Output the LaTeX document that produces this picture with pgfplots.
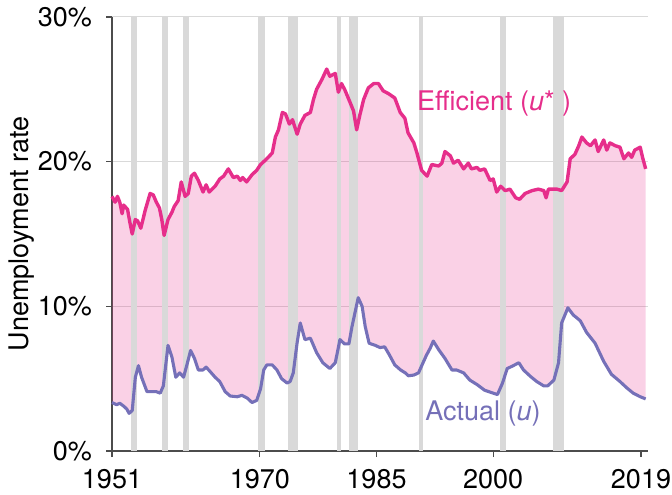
\documentclass[border=0pt]{standalone}
\usepackage{pgfplots}
\pgfplotsset{compat=1.18}
\usepackage{pgfplotstable}
\usepgfplotslibrary{fillbetween}
\usetikzlibrary{calc}
\usepackage{fontspec}
\setmainfont{TeX Gyre Heros}
\definecolor{effc}{HTML}{E62E8B}
\definecolor{actc}{HTML}{7570B8}
\definecolor{recc}{HTML}{D9D9D9}
\pgfplotstableread{
x y
1951.0 17.6
1951.4 17.2
1951.7 17.6
1952.0 17.2
1952.3 16.4
1952.5 17.0
1953.0 16.7
1953.3 15.8
1953.6 15.0
1954.0 16.0
1954.3 15.9
1954.7 15.4
1955.3 16.7
1955.9 17.8
1956.3 17.7
1956.7 17.2
1957.1 16.8
1957.4 16.0
1957.7 14.9
1958.2 16.0
1958.7 16.5
1959.0 16.9
1959.5 17.3
1959.9 18.6
1960.4 17.6
1960.8 17.8
1961.2 19.0
1961.6 19.2
1962.1 18.7
1962.7 17.9
1963.1 18.4
1963.5 17.9
1964.25 18.3
1964.85 18.8
1965.35 19.0
1965.95 19.5
1966.6 18.9
1967.1 19.0
1967.5 18.7
1967.8 18.9
1968.3 18.6
1969.0 19.1
1969.6 19.4
1970.1 19.8
1970.9 20.2
1971.6 20.6
1972.0 21.7
1972.4 22.2
1972.9 23.4
1973.3 23.3
1973.8 22.6
1974.2 22.9
1974.8 21.9
1975.2 22.6
1975.8 23.2
1976.5 23.4
1976.9 24.3
1977.3 25.0
1978.0 25.7
1978.6 26.4
1979.0 25.9
1979.7 26.1
1980.1 24.8
1980.5 25.4
1980.9 25.0
1981.6 24.1
1982.05 23.5
1982.45 22.2
1982.85 23.2
1983.35 24.3
1983.95 25.1
1984.65 25.4
1985.25 25.4
1985.85 24.9
1986.55 24.7
1987.35 24.4
1988.05 23.4
1988.65 23.0
1989.05 22.0
1989.8 21.3
1990.2 20.6
1990.8 19.4
1991.5 19.0
1992.1 19.8
1993.0 19.7
1993.4 19.9
1993.8 20.7
1994.5 20.4
1994.9 19.9
1995.5 20.1
1996.2 19.5
1996.8 19.9
1997.2 19.5
1997.9 19.6
1998.3 19.4
1998.9 19.5
1999.6 18.7
2000.0 18.8
2000.45 17.9
2000.95 18.3
2001.55 18.0
2002.15 18.1
2002.9 17.5
2003.4 17.4
2004.1 17.8
2005.0 18.0
2005.8 18.1
2006.5 18.0
2006.8 17.5
2007.1 18.1
2008.2 18.1
2008.8 18.0
2009.5 18.6
2009.9 20.2
2010.5 20.5
2011.0 21.1
2011.4 21.7
2012.0 21.3
2012.5 21.1
2013.1 21.5
2013.5 20.7
2014.2 21.5
2014.6 20.8
2015.0 21.3
2015.7 21.1
2016.3 21.0
2016.8 20.2
2017.4 20.6
2017.8 20.3
2018.2 20.8
2018.9 21.0
2019.2 20.3
2019.6 19.5
}\effdata
\pgfplotstableread{
x y
1951.0 3.35
1951.6 3.2
1952.0 3.3
1952.5 3.1
1952.9 2.9
1953.2 2.6
1953.6 2.8
1954.0 5.1
1954.4 5.9
1954.8 5.1
1955.5 4.1
1956.1 4.1
1956.7 4.1
1957.2 4.0
1957.6 4.5
1958.2 7.3
1958.7 6.5
1959.2 5.1
1959.7 5.4
1960.2 5.1
1960.7 6.1
1961.1 6.95
1961.6 6.4
1962.1 5.6
1962.7 5.6
1963.1 5.8
1963.6 5.5
1964.25 5.1
1964.85 4.8
1965.55 4.1
1966.2 3.8
1967.1 3.75
1967.7 3.85
1968.4 3.65
1969.0 3.35
1969.6 3.5
1970.1 4.3
1970.5 5.6
1970.9 5.95
1971.6 5.95
1972.2 5.6
1972.8 5.0
1973.5 4.7
1973.9 4.8
1974.3 5.4
1974.8 7.5
1975.2 8.85
1975.8 7.7
1976.5 7.8
1977.3 6.8
1978.1 6.1
1979.0 5.7
1979.7 6.1
1980.3 7.7
1980.9 7.4
1981.45 7.4
1981.85 8.6
1982.65 10.6
1983.15 10.0
1983.55 8.6
1984.05 7.45
1984.85 7.3
1985.45 7.15
1986.05 7.2
1986.65 6.65
1987.35 5.95
1988.1 5.6
1988.7 5.4
1989.1 5.2
1989.8 5.25
1990.4 5.4
1990.9 6.0
1991.4 6.6
1991.9 7.1
1992.3 7.6
1993.0 7.0
1993.8 6.4
1994.7 5.6
1995.3 5.6
1996.2 5.4
1997.0 4.9
1997.9 4.6
1998.9 4.2
2000.0 4.0
2000.55 3.9
2001.2 4.7
2001.8 5.7
2002.4 5.85
2003.3 6.1
2003.9 5.6
2004.8 5.15
2005.6 4.8
2006.5 4.5
2007.0 4.5
2007.8 4.9
2008.4 6.1
2008.8 8.85
2009.6 9.9
2010.3 9.4
2011.2 9.0
2012.0 8.2
2013.1 7.45
2014.2 6.2
2015.2 5.3
2016.3 4.8
2017.2 4.35
2018.0 4.0
2018.9 3.75
2019.6 3.6
}\actdata
\begin{document}
\fontsize{27bp}{32bp}\selectfont
\begin{tikzpicture}
\begin{axis}[
  scale only axis, width=536bp, height=434bp,
  xmin=1951, xmax=2019.9, ymin=0, ymax=30,
  axis x line*=bottom, axis y line*=left,
  axis line style={color=black!70, line width=1.2bp, -},
  xtick={1951,1970,1985,2000,2019},
  xticklabels={1951,1970,1985,2000,2019},
  ytick={0,10,20,30},
  yticklabels={0\%,10\%,20\%,30\%},
  tick align=outside, major tick length=6bp,
  tick style={color=black!70, line width=1.2bp},
  ymajorgrids, grid style={color=black!15, line width=1bp},
  tick label style={font=\fontsize{27bp}{32bp}\selectfont, inner sep=0pt},
  xticklabel style={yshift=-12bp},
  yticklabel style={xshift=-14bp},
  clip=false,
]
\addplot[draw=none, name path=eff, forget plot] table {\effdata};
\addplot[draw=none, name path=act, forget plot] table {\actdata};
\addplot[fill=recc, draw=none, forget plot] coordinates {(1953.44,30) (1954.18,30)} \closedcycle;
\addplot[fill=recc, draw=none, forget plot] coordinates {(1957.47,30) (1958.20,30)} \closedcycle;
\addplot[fill=recc, draw=none, forget plot] coordinates {(1960.17,30) (1960.94,30)} \closedcycle;
\addplot[fill=recc, draw=none, forget plot] coordinates {(1969.74,30) (1970.68,30)} \closedcycle;
\addplot[fill=recc, draw=none, forget plot] coordinates {(1973.68,30) (1974.88,30)} \closedcycle;
\addplot[fill=recc, draw=none, forget plot] coordinates {(1979.98,30) (1980.45,30)} \closedcycle;
\addplot[fill=recc, draw=none, forget plot] coordinates {(1981.48,30) (1982.68,30)} \closedcycle;
\addplot[fill=recc, draw=none, forget plot] coordinates {(1990.40,30) (1990.96,30)} \closedcycle;
\addplot[fill=recc, draw=none, forget plot] coordinates {(2000.90,30) (2001.67,30)} \closedcycle;
\addplot[fill=recc, draw=none, forget plot] coordinates {(2007.68,30) (2009.13,30)} \closedcycle;
\addplot[fill=effc, fill opacity=0.22, draw=none] fill between[of=eff and act];
\addplot[effc, line width=3.4bp, line join=round] table {\effdata};
\addplot[actc, line width=3.1bp, line join=round] table {\actdata};
\node[anchor=west, inner sep=0pt, text=effc] at (axis cs:1990.2,24.0) {Efficient (\textit{u}* )};
\node[anchor=west, inner sep=0pt, text=actc] at (axis cs:1991.26,2.56) {Actual (\textit{u})};
\end{axis}
\node[rotate=90] at ($(current axis.west)+(-90bp,0)$) {Unemployment rate};
\pgfresetboundingbox
\path[use as bounding box] ($(current axis.south west)+(-112bp,-44bp)$) rectangle ++(672bp,495bp);
\end{tikzpicture}
\end{document}
